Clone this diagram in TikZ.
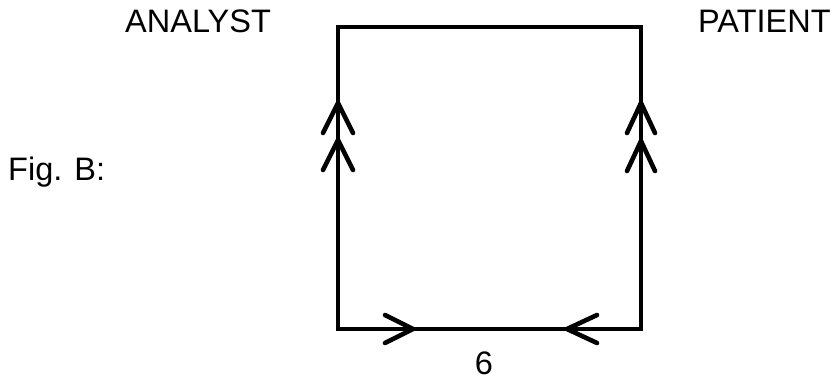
\documentclass[tikz,border=0pt]{standalone}
\usepackage{fontspec}
\setmainfont{Liberation Sans}
\begin{document}
\begin{tikzpicture}[x=1pt,y=-1pt,
  lbl/.style={inner sep=0pt,font=\fontsize{32.5}{38}\selectfont},
  edge/.style={line width=3.4pt,line join=miter},
  chev/.style={line width=4.6pt,line cap=round,line join=round}]
\useasboundingbox (0,0) rectangle (840,381);
% corners
\coordinate (tl) at (338,27);
\coordinate (tr) at (641,27);
\coordinate (bl) at (338,329);
\coordinate (br) at (641,329);
% labels
\node[lbl,anchor=base west] (analyst) at (125,32) {ANALYST};
\node[lbl,anchor=base west] (patient) at (698,32) {PATIENT};
\node[lbl,anchor=base west] (fig) at (8,180) {Fig. B:};
\node[lbl,anchor=base] (six) at (484,374) {6};
% square
\draw[edge] (bl) -- (tl) -- (tr) -- (br) -- cycle;
% chevrons on the left side (pointing up)
\draw[chev] ([shift={(-15,30)}]338,103) -- (338,103) -- ([shift={(15,30)}]338,103);
\draw[chev] ([shift={(-15,30)}]338,140) -- (338,140) -- ([shift={(15,30)}]338,140);
% chevrons on the right side (pointing up)
\draw[chev] ([shift={(-14,30)}]641,103) -- (641,103) -- ([shift={(14,30)}]641,103);
\draw[chev] ([shift={(-14,30)}]641,141) -- (641,141) -- ([shift={(14,30)}]641,141);
% chevrons on the bottom
\draw[chev] (385,315) -- (413,329) -- (385,343);
\draw[chev] (597,315) -- (567,329) -- (597,343);
\end{tikzpicture}
\end{document}
